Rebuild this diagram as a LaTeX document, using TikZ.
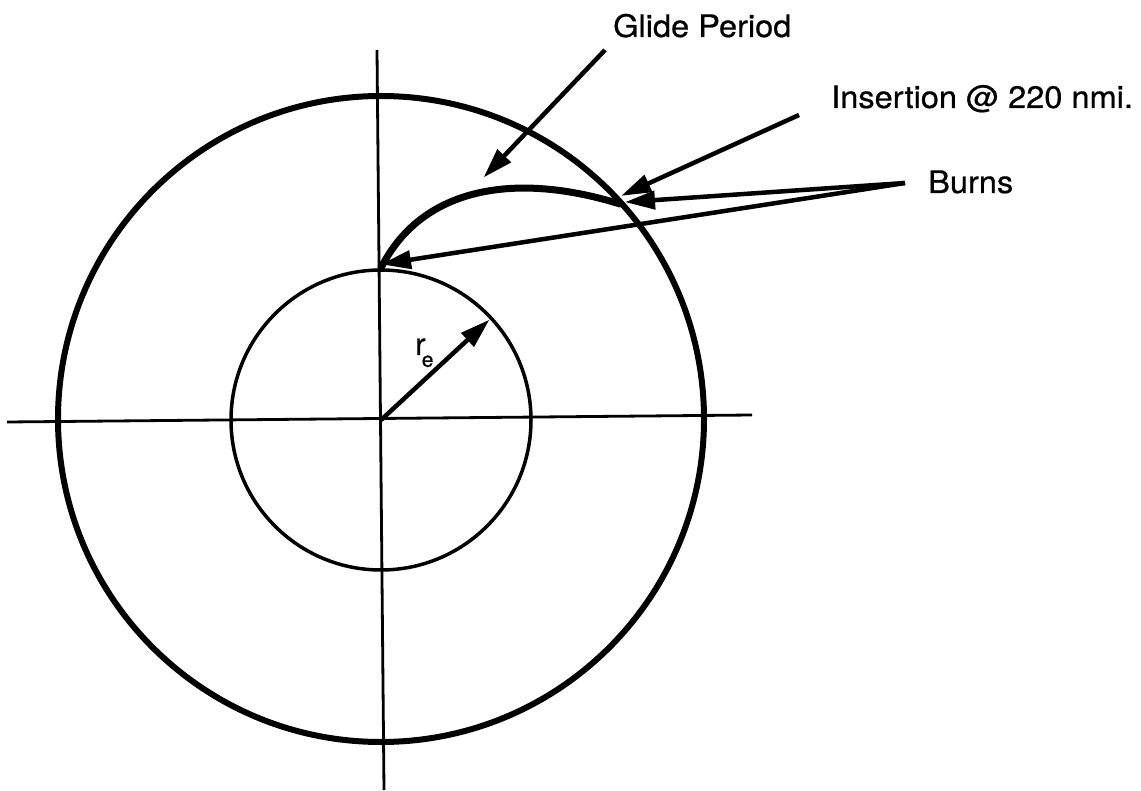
\documentclass[tikz,border=0pt]{standalone}
\usepackage{fontspec}
\setmainfont{TeX Gyre Heros}[FakeBold=0.6]
\usetikzlibrary{arrows.meta}
\begin{document}
\begin{tikzpicture}[x=1pt,y=-1pt,
  lbl/.style={inner sep=0pt,anchor=base west,font=\fontsize{31}{36}\selectfont,xscale=1.05},
  ptr/.style={line width=4.5pt,-{Triangle[length=30pt,width=18pt]},shorten >=-2pt},
  axis/.style={line width=2.8pt},
  orbit/.style={line width=6pt},
  earth/.style={line width=3.5pt},
  traj/.style={line width=7pt,line cap=round}]
\useasboundingbox (0,0) rectangle (1141,791);
% axes
\coordinate (xl) at (7,422);
\coordinate (xr) at (752,415);
\coordinate (yt) at (377,50);
\coordinate (yb) at (384,790);
\draw[axis] (xl) -- (xr);
\draw[axis] (yt) -- (yb);
% circles
\coordinate (c) at (381,420);
\draw[orbit] (381,419) circle[radius=323pt];
\draw[earth] (c) circle[radius=150pt];
% radius arrow
\coordinate (rtip) at (488,321);
\draw[ptr] (c) -- (rtip);
\node[inner sep=0pt,anchor=base west,font=\fontsize{31}{36}\selectfont] (re) at (415,355) {r\hspace{-0.12em}\raisebox{-0.38em}{\fontsize{21}{21}\selectfont e}};
% trajectory
\coordinate (start) at (381,268);
\coordinate (ins) at (620,204);
\draw[traj] (start) .. controls (420,190) and (510,170) .. (ins);
% labels
\node[lbl] (glide) at (613,37) {Glide Period};
\node[lbl] (insl) at (831,108) {Insertion @ 220 nmi.};
\node[lbl] (burns) at (928,193) {Burns};
% pointers
\coordinate (gs) at (605,50);
\coordinate (gt) at (485,176);
\draw[ptr] (gs) -- (gt);
\coordinate (is) at (799,115);
\coordinate (it) at (623,195);
\draw[ptr] (is) -- (it);
\coordinate (bs) at (905,183);
\coordinate (bt1) at (627,202);
\coordinate (bt2) at (383,264);
\draw[ptr] (bs) -- (bt1);
\draw[ptr] (bs) -- (bt2);
\end{tikzpicture}
\end{document}
